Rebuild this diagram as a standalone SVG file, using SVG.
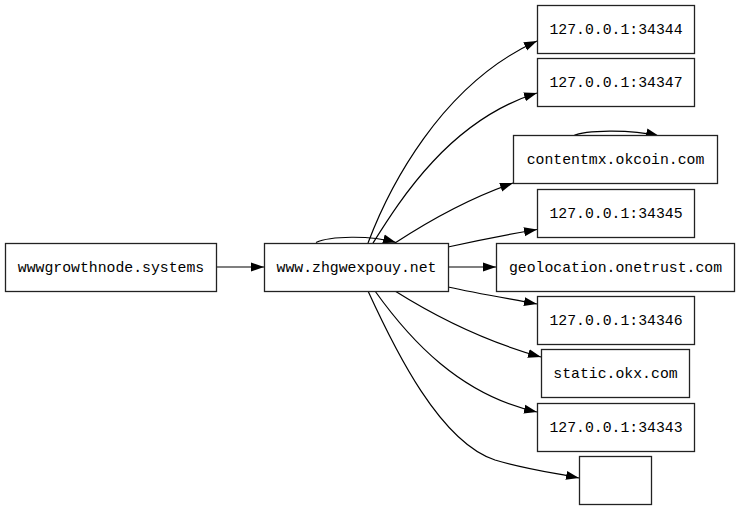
<svg xmlns="http://www.w3.org/2000/svg" width="740" height="509" viewBox="0 0 740 509">
<defs>
<marker id="ah" markerUnits="userSpaceOnUse" markerWidth="13" markerHeight="10" refX="13" refY="5" orient="auto">
<path d="M0,0.5 L13,5 L0,9.5 z" fill="#000"/>
</marker>
<style>
.n rect{fill:#fff;stroke:#222;stroke-width:1.3}
.n text{font-family:"Liberation Mono",monospace;font-size:14.8px;text-anchor:middle;fill:#000}
.e path{fill:none;stroke:#000;stroke-width:1.2;marker-end:url(#ah)}
</style>
</defs>
<rect width="740" height="509" fill="#fff"/>
<g class="e" id="edges">
<path d="M216.5,267 L264,267"/>
<path d="M316,242.5 C330,236 370,235 396,242.5"/>
<path d="M573,136 C585,130 630,129 659,136"/>
<path d="M368,243 C388,190 440,85 537,41"/>
<path d="M373,243 C400,200 450,120 537,93"/>
<path d="M395,243 C430,220 470,198 513,183"/>
<path d="M448,247 C475,241 505,235 537,229.5"/>
<path d="M448,267 L496,267"/>
<path d="M448,287 C475,293 505,298 537,304"/>
<path d="M395,291 C430,313 480,340 541,357"/>
<path d="M375,291 C410,340 460,395 537,412"/>
<path d="M368,291 C395,350 440,442 495,460 C525,469 555,473 579,478"/>
</g>
<g class="n" id="n_growth"><rect x="5.5" y="243.5" width="211" height="48"/><text x="111" y="271.5">wwwgrowthnode.systems</text></g>
<g class="n" id="n_zhg"><rect x="264.5" y="243.5" width="184" height="48"/><text x="356.5" y="271.5">www.zhgwexpouy.net</text></g>
<g class="n" id="n_34344"><rect x="537.5" y="5.5" width="157" height="48"/><text x="616" y="33.5">127.0.0.1:34344</text></g>
<g class="n" id="n_34347"><rect x="537.5" y="58.5" width="157" height="48"/><text x="616" y="86.5">127.0.0.1:34347</text></g>
<g class="n" id="n_contentmx"><rect x="513.5" y="135.5" width="204" height="48"/><text x="615.5" y="163.5">contentmx.okcoin.com</text></g>
<g class="n" id="n_34345"><rect x="537.5" y="189.5" width="157" height="48"/><text x="616" y="217.5">127.0.0.1:34345</text></g>
<g class="n" id="n_geo"><rect x="496.5" y="243.5" width="238" height="48"/><text x="615.5" y="271.5">geolocation.onetrust.com</text></g>
<g class="n" id="n_34346"><rect x="537.5" y="296.5" width="157" height="48"/><text x="616" y="324.5">127.0.0.1:34346</text></g>
<g class="n" id="n_okx"><rect x="541.5" y="349.5" width="148" height="48"/><text x="615.5" y="377.5">static.okx.com</text></g>
<g class="n" id="n_34343"><rect x="537.5" y="403.5" width="157" height="48"/><text x="616" y="431.5">127.0.0.1:34343</text></g>
<g class="n" id="n_empty"><rect x="579.5" y="456.5" width="72" height="48"/></g>
</svg>
